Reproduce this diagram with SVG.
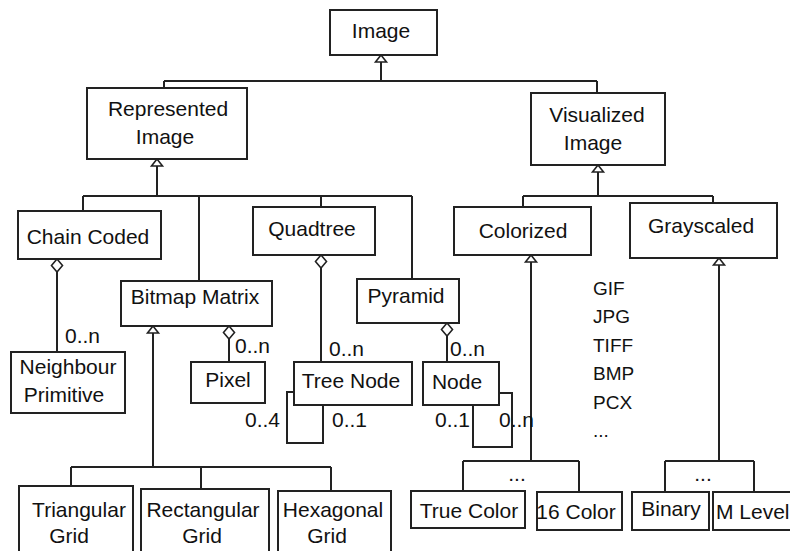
<svg xmlns="http://www.w3.org/2000/svg" xmlns:xlink="http://www.w3.org/1999/xlink" width="790" height="551" viewBox="0 0 790 551">
<style>
rect.box{fill:#fff;stroke:#222;stroke-width:2}
.ln{fill:none;stroke:#222;stroke-width:2}
.hol{fill:#fff;stroke:#222;stroke-width:1.6}
text{font-family:"Liberation Sans",Arial,sans-serif;font-size:21px;fill:#111}
text.c{text-anchor:middle}
text.lst{font-size:19px}
</style>
<defs>
<path id="tri" d="M0,0 L-5.5,7 L5.5,7 Z" class="hol"/>
<path id="dia" d="M0,0 L-5.5,6.5 L0,13 L5.5,6.5 Z" class="hol"/>
</defs>
<rect width="790" height="551" fill="#fff"/>
<g id="connectors">
<path class="ln" d="M381,62 V81 M164,81 H597 M164,81 V88 M597,81 V93"/>
<path class="ln" d="M157,166 V196 M83,196 H412 M83,196 V211 M199,196 V281 M321,196 V207 M412,196 V279"/>
<path class="ln" d="M598,172 V196 M523,196 H713 M523,196 V207 M713,196 V203"/>
<path class="ln" d="M57,272 V352 M229,339 V362 M321,268 V362 M447,336 V362"/>
<path class="ln" d="M153,333 V467 M71,467 H331 M71,467 V486 M201,467 V489 M331,467 V491"/>
<path class="ln" d="M294,392 H287 V443 H323 V405"/>
<path class="ln" d="M499,393 H512 V447 H473 V405"/>
<path class="ln" d="M531,262 V461 M463,461 H579 M463,461 V491 M579,461 V492"/>
<path class="ln" d="M719,265 V461 M665,461 H754 M665,461 V492 M754,461 V492"/>
<use xlink:href="#tri" x="381" y="55"/>
<use xlink:href="#tri" x="157" y="159"/>
<use xlink:href="#tri" x="598" y="165"/>
<use xlink:href="#tri" x="153" y="326"/>
<use xlink:href="#tri" x="531" y="255"/>
<use xlink:href="#tri" x="719" y="258"/>
<use xlink:href="#dia" x="57" y="259"/>
<use xlink:href="#dia" x="229" y="326"/>
<use xlink:href="#dia" x="321" y="255"/>
<use xlink:href="#dia" x="447" y="323"/>
<text x="65" y="343">0..n</text>
<text x="235" y="353">0..n</text>
<text x="329" y="356">0..n</text>
<text x="450" y="356">0..n</text>
<text x="245" y="427">0..4</text>
<text x="332" y="427">0..1</text>
<text x="435" y="427">0..1</text>
<text x="499" y="427">0..n</text>
<text class="c" x="517" y="481">...</text>
<text class="c" x="703" y="481">...</text>
</g>
<g id="image"><rect class="box" x="330" y="10" width="107" height="45"/><text class="c" x="381" y="38">Image</text></g>
<g id="represented-image"><rect class="box" x="87" y="88" width="160" height="71"/><text class="c" x="168" y="116">Represented</text><text class="c" x="165" y="144">Image</text></g>
<g id="visualized-image"><rect class="box" x="531" y="93" width="134" height="72"/><text class="c" x="597" y="122">Visualized</text><text class="c" x="593" y="150">Image</text></g>
<g id="chain-coded"><rect class="box" x="18" y="211" width="143" height="48"/><text class="c" x="88" y="244">Chain Coded</text></g>
<g id="bitmap-matrix"><rect class="box" x="121" y="281" width="151" height="45"/><text class="c" x="195" y="304">Bitmap Matrix</text></g>
<g id="quadtree"><rect class="box" x="253" y="207" width="122" height="48"/><text class="c" x="312" y="236">Quadtree</text></g>
<g id="pyramid"><rect class="box" x="357" y="279" width="102" height="44"/><text class="c" x="406" y="303">Pyramid</text></g>
<g id="colorized"><rect class="box" x="454" y="207" width="137" height="48"/><text class="c" x="523" y="238">Colorized</text></g>
<g id="grayscaled"><rect class="box" x="630" y="203" width="147" height="55"/><text class="c" x="701" y="233">Grayscaled</text></g>
<g id="neighbour-primitive"><rect class="box" x="11" y="352" width="114" height="61"/><text class="c" x="68" y="374">Neighbour</text><text class="c" x="64" y="402">Primitive</text></g>
<g id="pixel"><rect class="box" x="191" y="362" width="74" height="41"/><text class="c" x="228" y="387">Pixel</text></g>
<g id="tree-node"><rect class="box" x="294" y="362" width="118" height="43"/><text class="c" x="351" y="388">Tree Node</text></g>
<g id="node"><rect class="box" x="423" y="362" width="76" height="43"/><text class="c" x="457" y="389">Node</text></g>
<g id="formats"><text class="lst" x="593" y="295">GIF</text><text class="lst" x="593" y="323">JPG</text><text class="lst" x="593" y="352">TIFF</text><text class="lst" x="593" y="380">BMP</text><text class="lst" x="593" y="409">PCX</text><text class="lst" x="593" y="437">...</text></g>
<g id="triangular-grid"><rect class="box" x="19" y="486" width="114" height="80"/><text class="c" x="79" y="517">Triangular</text><text class="c" x="69" y="543">Grid</text></g>
<g id="rectangular-grid"><rect class="box" x="141" y="489" width="128" height="80"/><text class="c" x="203" y="517">Rectangular</text><text class="c" x="202" y="543">Grid</text></g>
<g id="hexagonal-grid"><rect class="box" x="278" y="491" width="113" height="80"/><text class="c" x="333" y="517">Hexagonal</text><text class="c" x="327" y="543">Grid</text></g>
<g id="true-color"><rect class="box" x="411" y="491" width="114" height="37"/><text class="c" x="469" y="518">True Color</text></g>
<g id="color-16"><rect class="box" x="537" y="492" width="85" height="38"/><text class="c" x="576" y="519">16 Color</text></g>
<g id="binary"><rect class="box" x="632" y="492" width="77" height="38"/><text class="c" x="671" y="516">Binary</text></g>
<g id="m-level"><rect class="box" x="713" y="492" width="90" height="38"/><text x="716" y="519" font-size="20.5">M Level</text></g>
</svg>
